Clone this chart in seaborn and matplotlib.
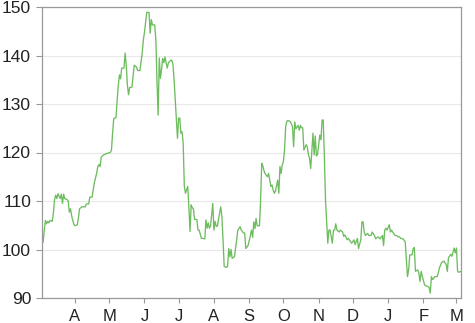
import matplotlib
matplotlib.use("Agg")
import matplotlib.pyplot as plt
import matplotlib.dates as mdates
from matplotlib.ticker import FuncFormatter
import pandas as pd
import seaborn as sns

start_date = "2015-03-03"

days = [0, 1, 2, 3, 4, 5, 6, 7, 9, 10, 11, 12, 13, 14, 16, 17, 18, 19, 20, 22,
        23, 24, 25, 26, 27, 28, 29, 31, 32, 33, 35, 38, 39, 41, 42, 44, 46, 48, 49, 50,
        51, 52, 54, 57, 60, 61, 62, 63, 65, 66, 67, 68, 69, 70, 72, 73, 74, 75, 76, 77,
        79, 81, 83, 84, 86, 88, 89, 90, 92, 94, 95, 96, 97, 99, 100, 101, 102, 103, 104, 105,
        106, 107, 108, 110, 111, 113, 114, 115, 116, 118, 119, 120, 121, 122, 123, 124, 125, 126, 128, 129,
        130, 131, 132, 133, 134, 136, 137, 138, 140, 141, 143, 144, 145, 146, 147, 148, 150, 151, 152, 153,
        154, 155, 157, 158, 159, 160, 162, 163, 164, 165, 166, 167, 169, 171, 172, 174, 175, 177, 178, 179,
        180, 181, 182, 184, 185, 186, 187, 188, 189, 191, 192, 193, 194, 195, 196, 198, 199, 201, 202, 203,
        204, 205, 207, 208, 209, 210, 211, 212, 213, 214, 215, 216, 218, 219, 220, 221, 222, 223, 225, 226,
        227, 228, 229, 230, 232, 233, 234, 235, 236, 238, 239, 240, 241, 242, 244, 245, 246, 247, 248, 249,
        250, 251, 252, 253, 255, 256, 257, 258, 259, 261, 262, 264, 265, 266, 268, 269, 271, 272, 274, 275,
        277, 278, 280, 281, 282, 283, 284, 286, 287, 289, 290, 292, 293, 295, 296, 297, 299, 300, 301, 302,
        303, 305, 306, 307, 308, 310, 311, 313, 314, 315, 317, 319, 321, 322, 323, 325, 326, 327, 328, 330,
        331, 332, 333, 334, 336, 337, 338, 340, 341, 342, 343, 345, 347, 348, 349, 351, 353, 355, 356, 357,
        359, 360, 362, 363, 364, 365, 366, 368]

prices = [101.3, 101.5, 104.0, 106.0, 105.3, 105.8, 105.5, 106.0, 105.8, 107.5, 110.2, 111.2, 110.5, 111.5, 110.5, 111.4, 109.5, 111.4, 110.5, 110.3,
          110.0, 107.7, 108.4, 107.0, 106.0, 105.2, 104.9, 105.1, 106.5, 108.4, 108.8, 108.8, 109.4, 109.4, 110.8, 110.8, 113.8, 115.7, 117.1, 117.5,
          117.1, 119.0, 119.5, 119.8, 120.0, 120.5, 124.0, 127.0, 127.2, 130.8, 133.8, 136.0, 135.2, 137.4, 137.4, 140.5, 138.0, 133.9, 131.9, 133.4,
          133.5, 138.0, 137.6, 136.9, 136.9, 140.5, 143.2, 144.8, 148.9, 148.9, 144.6, 147.4, 146.3, 146.3, 143.2, 134.6, 127.7, 139.5, 135.3, 137.1,
          139.4, 138.5, 139.7, 137.4, 138.5, 139.0, 139.0, 138.2, 135.0, 127.1, 122.9, 127.1, 127.1, 124.0, 124.3, 121.9, 113.0, 111.6, 113.0, 108.8,
          103.7, 109.2, 108.6, 108.4, 106.2, 106.2, 104.0, 104.0, 102.3, 102.3, 102.2, 106.1, 104.4, 105.5, 104.4, 104.8, 109.5, 104.0, 105.8, 104.8,
          104.8, 106.2, 108.8, 106.8, 102.0, 96.5, 96.3, 96.5, 100.2, 98.5, 100.0, 98.2, 98.5, 102.0, 104.0, 104.7, 104.0, 103.4, 103.4, 100.2,
          100.5, 100.8, 101.8, 104.0, 102.5, 105.7, 104.3, 106.4, 104.9, 104.9, 110.2, 117.8, 117.2, 116.2, 115.6, 115.0, 115.7, 113.0, 113.3, 112.3,
          111.6, 112.0, 114.3, 111.6, 117.1, 115.7, 117.5, 118.1, 120.5, 125.3, 126.4, 126.6, 126.4, 125.9, 125.3, 121.2, 126.3, 124.9, 125.6, 124.6,
          125.6, 125.1, 125.1, 120.5, 121.6, 121.2, 119.5, 118.8, 116.7, 124.0, 119.5, 123.4, 119.3, 119.6, 123.6, 122.6, 126.7, 126.7, 119.1, 110.2,
          105.7, 101.3, 104.0, 104.0, 101.3, 104.0, 104.0, 105.3, 104.0, 103.6, 104.0, 103.6, 102.7, 103.0, 102.0, 102.3, 101.6, 101.3, 102.0, 101.0,
          102.3, 100.2, 102.0, 105.7, 105.7, 103.6, 102.9, 103.3, 102.9, 102.9, 103.6, 102.9, 102.2, 102.6, 102.4, 102.2, 102.9, 100.8, 104.0, 104.4,
          104.0, 105.1, 103.6, 104.0, 103.6, 102.9, 102.9, 102.6, 102.6, 102.3, 102.2, 101.6, 94.4, 95.8, 98.9, 98.9, 100.2, 100.4, 95.5, 95.8,
          95.1, 93.4, 95.5, 94.5, 92.7, 92.5, 92.5, 92.2, 91.0, 94.4, 93.8, 94.4, 94.4, 95.1, 96.2, 97.3, 97.6, 96.9, 95.5, 98.3,
          99.0, 98.6, 100.3, 99.3, 100.3, 95.5, 95.3, 95.5]

y_ticks = [90, 100, 110, 120, 130, 140, 150]

sns.set_style("white")
plt.rcParams["font.family"] = ["Liberation Sans", "DejaVu Sans"]

dates = pd.Timestamp(start_date) + pd.to_timedelta(days, unit="D")
df = pd.DataFrame({"date": dates, "price": prices})

fig = plt.figure(figsize=(4.75, 3.23), dpi=100)
ax = fig.add_axes([42 / 475, 1 - 298 / 323, (461 - 42) / 475, (298 - 7) / 323])

sns.lineplot(data=df, x="date", y="price", ax=ax, color="#6dbd5f",
             linewidth=0.95, estimator=None)

ax.set_xlim(df["date"].iloc[0], df["date"].iloc[-1])
ax.set_ylim(90, 150)
ax.set_yticks(y_ticks)
ax.yaxis.grid(True, color="#e8e8e8", linewidth=0.8)
ax.xaxis.grid(False)
ax.set_axisbelow(True)

ax.xaxis.set_major_locator(mdates.MonthLocator())
ax.xaxis.set_major_formatter(
    FuncFormatter(lambda v, p: mdates.num2date(v).strftime("%b")[0]))

for s in ax.spines.values():
    s.set_color("#999999")
    s.set_linewidth(0.9)

ax.tick_params(axis="x", length=3.6, width=0.8, color="#999999", pad=4.2,
               labelsize=12, labelcolor="#222222", bottom=True)
ax.tick_params(axis="y", length=4.3, width=0.8, color="#999999", pad=3.6,
               labelsize=12.5, labelcolor="#222222", left=True)
ax.set_xlabel("")
ax.set_ylabel("")

fig.savefig("out.png", dpi=100)
